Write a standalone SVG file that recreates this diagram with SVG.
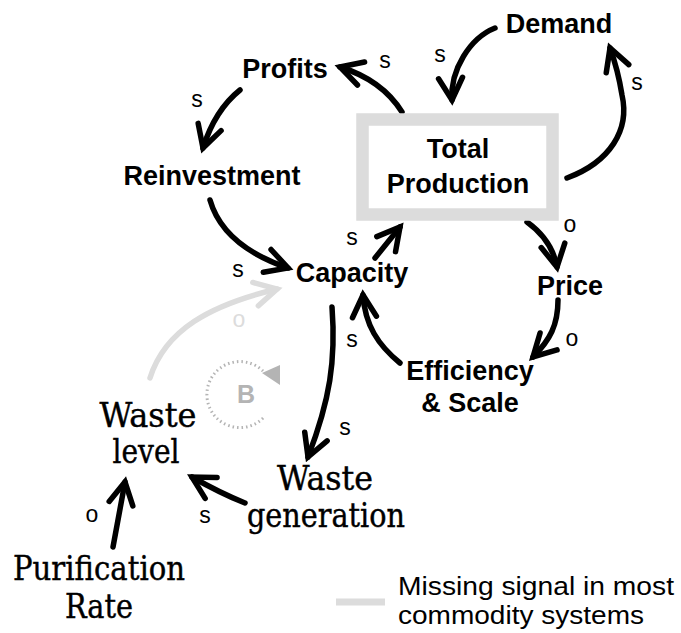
<svg xmlns="http://www.w3.org/2000/svg" width="681" height="633" viewBox="0 0 681 633">
<style>
.b{font-family:"Liberation Sans",Arial,sans-serif;font-weight:bold;font-size:27px;fill:#000;text-anchor:middle}
.sr{font-family:"DejaVu Serif Condensed","DejaVu Serif","Liberation Serif",serif;font-stretch:condensed;font-size:33px;fill:#000;stroke:#000;stroke-width:0.4;text-anchor:middle}
.l{font-family:"Liberation Sans",Arial,sans-serif;font-size:23px;fill:#000;text-anchor:middle}
.lg{font-family:"Liberation Sans",Arial,sans-serif;font-size:25px;fill:#000}
.c{fill:none;stroke:#000;stroke-width:5.5;stroke-linecap:round;stroke-linejoin:round}
.cg{fill:none;stroke:#dcdcdc;stroke-width:5.5;stroke-linecap:round;stroke-linejoin:round}
</style>
<defs>
<marker id="ah" markerUnits="userSpaceOnUse" markerWidth="40" markerHeight="40" refX="0" refY="0" viewBox="-25 -20 30 40" orient="auto" overflow="visible">
<path d="M-22,-12 L0,0 L-22,12" fill="none" stroke="#000" stroke-width="5.5" stroke-linecap="round" stroke-linejoin="miter"/>
</marker>
<marker id="ahg" markerUnits="userSpaceOnUse" markerWidth="40" markerHeight="40" refX="0" refY="0" viewBox="-25 -20 30 40" orient="auto" overflow="visible">
<path d="M-22,-12 L0,0 L-22,12" fill="none" stroke="#dcdcdc" stroke-width="5.5" stroke-linecap="round" stroke-linejoin="miter"/>
</marker>
</defs>
<rect width="681" height="633" fill="#fff"/>
<g id="connectors">
<path class="c" d="M402,112 Q382,80 340,67" marker-end="url(#ah)"/>
<path class="c" d="M495,28 C470,38 450,70 452,100" marker-end="url(#ah)"/>
<path class="c" d="M567,178 C610,162 630,130 622,95 Q618,70 610,48" marker-end="url(#ah)"/>
<path class="c" d="M240,90 Q215,110 203,148" marker-end="url(#ah)"/>
<path class="c" d="M210,200 C220,235 250,255 288,268" marker-end="url(#ah)"/>
<path class="c" d="M375,258 L400,227" marker-end="url(#ah)"/>
<path class="c" d="M527,222 Q552,240 557,267" marker-end="url(#ah)"/>
<path class="c" d="M558,300 C558,325 550,340 533,357" marker-end="url(#ah)"/>
<path class="c" d="M400,363 C378,345 365,325 363,295" marker-end="url(#ah)"/>
<path class="c" d="M332,307 C336,360 330,400 308,457" marker-end="url(#ah)"/>
<path class="c" d="M245,503 Q220,493 192,477" marker-end="url(#ah)"/>
<path class="c" d="M113,547 L125,482" marker-end="url(#ah)"/>
<path class="cg" d="M150,378 C165,330 210,305 277,289" marker-end="url(#ahg)"/>
<text class="l" x="385" y="68">s</text>
<text class="l" x="440" y="62">s</text>
<text class="l" x="637" y="90">s</text>
<text class="l" x="197" y="107">s</text>
<text class="l" x="238" y="277">s</text>
<text class="l" x="352" y="245">s</text>
<text class="l" x="352" y="347">s</text>
<text class="l" x="345" y="435">s</text>
<text class="l" x="570" y="232">o</text>
<text class="l" x="572" y="346">o</text>
<text class="l" x="205" y="523">s</text>
<text class="l" x="92" y="522">o</text>
<text class="l" x="239" y="327" style="fill:#dcdcdc">o</text>
</g>
<g id="loop-b">
<path d="M263,371 A33,33 0 1 0 265,416" fill="none" stroke="#b4b4b4" stroke-width="3" stroke-dasharray="1.5 3"/>
<polygon points="262,373 280,365 280,385" fill="#b4b4b4"/>
<text x="246" y="403" font-family="Liberation Sans,Arial,sans-serif" font-weight="bold" font-size="25" fill="#b4b4b4" text-anchor="middle">B</text>
</g>
<g id="demand"><text class="b" x="559" y="33">Demand</text></g>
<g id="profits"><text class="b" x="285" y="78">Profits</text></g>
<g id="reinvestment"><text class="b" x="212" y="185">Reinvestment</text></g>
<g id="total-production">
<rect x="362.5" y="119.5" width="190" height="95" fill="#fff" stroke="#dcdcdc" stroke-width="12.5"/>
<text class="b" x="458" y="158" font-size="28">Total</text>
<text class="b" x="458" y="193" font-size="28">Production</text>
</g>
<g id="capacity"><text class="b" x="352" y="282">Capacity</text></g>
<g id="price"><text class="b" x="570" y="295">Price</text></g>
<g id="efficiency"><text class="b" x="470" y="380">Efficiency</text><text class="b" x="470" y="412">&amp; Scale</text></g>
<g id="waste-level"><text class="sr" x="148" y="427" textLength="97" lengthAdjust="spacingAndGlyphs">Waste</text><text class="sr" x="146" y="463" textLength="67" lengthAdjust="spacingAndGlyphs">level</text></g>
<g id="waste-generation"><text class="sr" x="325" y="490" textLength="96" lengthAdjust="spacingAndGlyphs">Waste</text><text class="sr" x="326" y="527" textLength="158" lengthAdjust="spacingAndGlyphs">generation</text></g>
<g id="purification-rate"><text class="sr" x="99" y="580" textLength="172" lengthAdjust="spacingAndGlyphs">Purification</text><text class="sr" x="99" y="618" textLength="68" lengthAdjust="spacingAndGlyphs">Rate</text></g>
<g id="legend">
<line x1="336" y1="602" x2="385" y2="602" stroke="#dcdcdc" stroke-width="7"/>
<text class="lg" x="398" y="595" textLength="276" lengthAdjust="spacingAndGlyphs">Missing signal in most</text>
<text class="lg" x="398" y="624" textLength="246" lengthAdjust="spacingAndGlyphs">commodity systems</text>
</g>
</svg>
